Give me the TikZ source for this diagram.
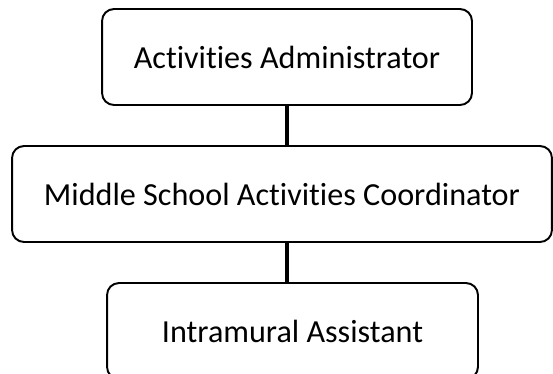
\documentclass[tikz,border=0pt]{standalone}
\usepackage{fontspec}
\setmainfont[RawFeature=-liga]{Carlito}
\usepackage{tikz}
\usetikzlibrary{calc}

\tikzset{
  postbox/.style={draw, rounded corners=0.24cm, line width=1.1pt, align=center,
    minimum height=1.92cm, inner sep=0pt, font=\fontsize{18.3}{21}\selectfont},
  linkline/.style={line width=1.8pt}
}

\begin{document}
\begin{tikzpicture}[x=0.02cm,y=-0.02cm]
  \useasboundingbox (0,0) rectangle (553,373);
  \node[postbox, minimum width=7.4cm]  (admin) at (287,57)  {Activities Administrator};
  \node[postbox, minimum width=10.8cm] (coord) at (282,194) {Middle School Activities Coordinator};
  \node[postbox, minimum width=7.42cm] (intra) at (292.5,331) {Intramural Assistant};
  \draw[linkline] (admin.south) -- (admin.south |- coord.north);
  \draw[linkline] (coord.south -| admin.south) -- (intra.north -| admin.south);
\end{tikzpicture}
\end{document}
